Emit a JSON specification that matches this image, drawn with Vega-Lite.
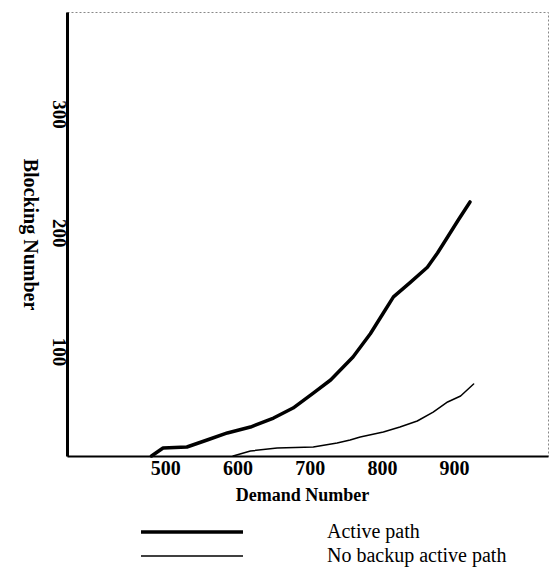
{
  "$schema": "https://vega.github.io/schema/vega-lite/v6.json",
  "autosize": {"type": "none"},
  "padding": {"left": 67, "top": 12, "right": 4, "bottom": 112},
  "width": 481,
  "height": 444,
  "background": "white",
  "config": {
    "view": {"stroke": "#888", "strokeDash": [2, 2], "strokeWidth": 1},
    "font": "Liberation Serif"
  },
  "data": {
    "values": [
      {"series": "Active path", "demand": 481, "blocking": 0},
      {"series": "Active path", "demand": 497, "blocking": 6.7},
      {"series": "Active path", "demand": 530, "blocking": 7.6},
      {"series": "Active path", "demand": 558, "blocking": 13.5},
      {"series": "Active path", "demand": 586, "blocking": 19.4},
      {"series": "Active path", "demand": 618, "blocking": 24.4},
      {"series": "Active path", "demand": 650, "blocking": 32},
      {"series": "Active path", "demand": 677, "blocking": 40.4},
      {"series": "Active path", "demand": 705, "blocking": 53},
      {"series": "Active path", "demand": 729, "blocking": 64},
      {"series": "Active path", "demand": 760, "blocking": 83.4},
      {"series": "Active path", "demand": 784, "blocking": 103},
      {"series": "Active path", "demand": 802, "blocking": 120.5},
      {"series": "Active path", "demand": 816, "blocking": 134},
      {"series": "Active path", "demand": 839, "blocking": 146},
      {"series": "Active path", "demand": 863, "blocking": 159},
      {"series": "Active path", "demand": 877, "blocking": 171},
      {"series": "Active path", "demand": 891, "blocking": 184.5},
      {"series": "Active path", "demand": 906, "blocking": 199},
      {"series": "Active path", "demand": 922, "blocking": 214},
      {"series": "No backup active path", "demand": 594, "blocking": 0},
      {"series": "No backup active path", "demand": 618, "blocking": 4.2},
      {"series": "No backup active path", "demand": 655, "blocking": 6.7},
      {"series": "No backup active path", "demand": 705, "blocking": 7.6},
      {"series": "No backup active path", "demand": 738, "blocking": 11},
      {"series": "No backup active path", "demand": 756, "blocking": 13.5},
      {"series": "No backup active path", "demand": 770, "blocking": 16},
      {"series": "No backup active path", "demand": 802, "blocking": 20.2},
      {"series": "No backup active path", "demand": 825, "blocking": 24.4},
      {"series": "No backup active path", "demand": 849, "blocking": 29.5},
      {"series": "No backup active path", "demand": 871, "blocking": 37},
      {"series": "No backup active path", "demand": 891, "blocking": 45.5},
      {"series": "No backup active path", "demand": 909, "blocking": 50.5},
      {"series": "No backup active path", "demand": 927, "blocking": 60.7}
    ]
  },
  "mark": {"type": "line", "strokeCap": "round", "strokeJoin": "round"},
  "encoding": {
    "x": {
      "field": "demand",
      "type": "quantitative",
      "scale": {"domain": [364, 1030], "nice": false, "zero": false},
      "axis": {
        "title": "Demand Number",
        "values": [500, 600, 700, 800, 900],
        "grid": false,
        "ticks": false,
        "tickSize": 0,
        "domainColor": "black",
        "domainWidth": 2,
        "labelFont": "Liberation Serif",
        "labelFontSize": 20,
        "labelFontWeight": "bold",
        "labelColor": "black",
        "labelPadding": 2,
        "labelFlush": false,
        "titleFont": "Liberation Serif",
        "titleFontSize": 18,
        "titleFontWeight": "bold",
        "titleColor": "black",
        "titleX": 235,
        "titleY": 44,
        "titleBaseline": "alphabetic",
        "titleAlign": "center"
      }
    },
    "y": {
      "field": "blocking",
      "type": "quantitative",
      "scale": {"domain": [0, 374], "nice": false},
      "axis": {
        "title": "Blocking Number",
        "values": [100, 200, 300],
        "grid": false,
        "ticks": false,
        "tickSize": 0,
        "domainColor": "black",
        "domainWidth": 3,
        "labelAngle": 90,
        "labelAlign": "left",
        "labelBaseline": "middle",
        "labelFont": "Liberation Serif",
        "labelFontSize": 19,
        "labelFontWeight": "bold",
        "labelColor": "black",
        "labelPadding": 9,
        "labelFlush": false,
        "titleFont": "Liberation Serif",
        "titleFontSize": 20,
        "titleFontWeight": "bold",
        "titleColor": "black",
        "titleAngle": 90,
        "titleX": -38,
        "titleY": 222,
        "titleAlign": "center",
        "titleBaseline": "middle"
      }
    },
    "color": {
      "field": "series",
      "type": "nominal",
      "scale": {"domain": ["Active path", "No backup active path"], "range": ["#000000", "#000000"]},
      "legend": {
        "title": null,
        "orient": "none",
        "legendX": 113,
        "legendY": 508,
        "direction": "vertical",
        "padding": 0,
        "symbolType": "M-5,0H5",
        "symbolSize": 416,
        "symbolStrokeWidth": 2,
        "labelFont": "Liberation Serif",
        "labelFontSize": 20,
        "labelColor": "black",
        "labelOffset": 123,
        "rowPadding": 3,
        "labelLimit": 400,
        "encode": {
          "symbols": {
            "update": {
              "strokeWidth": {"signal": "datum.value === 'Active path' ? 3.5 : 1.5"},
              "stroke": {"value": "black"},
              "fill": {"value": "transparent"}
            }
          }
        }
      }
    },
    "strokeWidth": {
      "field": "series",
      "type": "nominal",
      "scale": {"domain": ["Active path", "No backup active path"], "range": [3.5, 1.5]},
      "legend": null
    }
  }
}
